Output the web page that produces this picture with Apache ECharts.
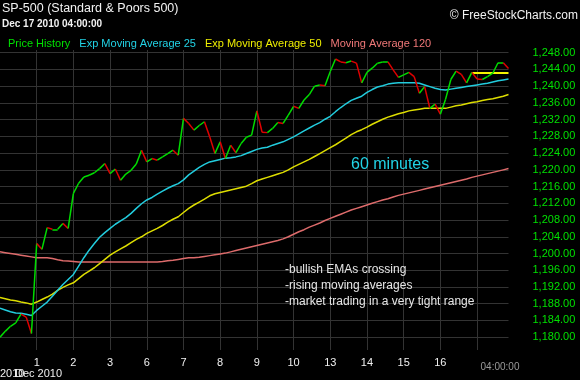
<!DOCTYPE html>
<html>
<head>
<meta charset="utf-8">
<script src="https://cdn.jsdelivr.net/npm/echarts@6/dist/echarts.min.js"></script>
<style>
html,body{margin:0;padding:0;background:#000;}
#chart{width:580px;height:380px;}
</style>
</head>
<body>
<div id="chart"></div>
<script>
// ---- data ----
const days = ['30','1','2','3','6','7','8','9','10','13','14','15','16','17'];
const hours = ['09:30','10:30','11:30','12:30','13:30','14:30','15:30'];
const yTicks = [1180,1184,1188,1192,1196,1200,1204,1208,1212,1216,1220,1224,1228,1232,1236,1240,1244,1248];

const price = [
1180.0,1181.4,1182.6,1183.4,1185.5,1184.8,1180.9,
1202.4,1201.0,1206.2,1205.8,1205.8,1207.2,1206.0,
1214.4,1216.8,1218.3,1218.7,1219.3,1220.3,1221.5,
1219.1,1220.2,1217.5,1219.0,1219.9,1221.4,1224.7,
1221.9,1222.7,1222.3,1223.1,1223.9,1224.7,1223.5,
1232.3,1231.1,1229.5,1230.6,1231.5,1227.9,1223.9,
1226.7,1222.7,1225.9,1224.1,1226.3,1227.8,1228.3,
1234.1,1229.0,1228.9,1229.9,1231.3,1231.1,1233.1,
1235.2,1234.7,1236.7,1238.0,1240.0,1240.3,1240.1,
1243.5,1246.5,1245.8,1245.6,1246.0,1245.5,1240.8,
1243.3,1244.3,1245.5,1245.8,1245.8,1243.9,1242.1,
1242.7,1243.3,1242.3,1238.3,1239.9,1234.7,1235.7,
1233.3,1236.9,1241.6,1243.6,1242.8,1240.8,1243.3,
1241.7,1241.6,1242.3,1243.1,1245.6,1245.6,1244.22
];

const ema25 = [
1186.9,1186.5,1186.1,1185.8,1185.7,1185.5,1185.2,
1186.4,1187.4,1188.4,1189.8,1191.2,1192.6,1193.8,
1195.0,1197.0,1199.0,1200.8,1202.4,1203.9,1205.0,
1206.0,1207.0,1207.8,1208.6,1209.6,1210.8,1211.9,
1212.8,1213.4,1214.2,1214.9,1215.6,1216.2,1216.7,
1217.6,1218.8,1219.7,1220.6,1221.3,1221.9,1222.2,
1222.5,1222.8,1222.9,1223.1,1223.4,1223.9,1224.4,
1224.9,1225.2,1225.4,1225.9,1226.3,1226.7,1227.3,
1227.9,1228.6,1229.3,1230.0,1230.7,1231.3,1232.1,
1232.8,1233.9,1234.9,1235.8,1236.6,1237.1,1237.6,
1238.5,1239.2,1239.8,1240.1,1240.5,1240.7,1240.8,
1240.8,1240.8,1240.8,1240.7,1240.3,1239.9,1239.5,
1239.2,1239.1,1239.3,1239.5,1239.7,1239.9,1240.1,
1240.3,1240.5,1240.7,1241.0,1241.3,1241.5,1241.7
];

const ema50 = [
1189.5,1189.2,1188.9,1188.7,1188.4,1188.2,1187.9,
1188.4,1189.0,1189.6,1190.3,1191.2,1191.9,1192.5,
1193.0,1194.0,1195.0,1195.8,1196.6,1197.6,1198.6,
1199.6,1200.4,1201.1,1201.8,1202.6,1203.4,1204.0,
1204.8,1205.4,1206.0,1206.7,1207.5,1208.2,1208.8,
1209.8,1210.8,1211.6,1212.3,1213.0,1213.8,1214.3,
1214.6,1214.9,1215.2,1215.5,1215.8,1216.1,1216.7,
1217.4,1217.8,1218.2,1218.6,1219.0,1219.4,1220.0,
1220.7,1221.3,1221.9,1222.5,1223.2,1223.9,1224.6,
1225.3,1226.0,1226.8,1227.6,1228.4,1229.1,1229.6,
1230.2,1230.9,1231.5,1232.1,1232.6,1233.0,1233.4,
1233.7,1234.1,1234.3,1234.5,1234.7,1234.7,1234.7,
1234.7,1234.7,1235.0,1235.3,1235.5,1235.8,1236.1,
1236.3,1236.6,1236.8,1237.0,1237.3,1237.6,1238.0
];

const ma120 = [
1200.4,1200.2,1200.0,1199.8,1199.6,1199.4,1199.2,
1199.0,1199.0,1199.0,1198.8,1198.5,1198.3,1198.2,
1198.1,1198.0,1198.0,1198.0,1198.0,1198.0,1198.0,
1198.0,1198.0,1198.0,1198.0,1198.0,1198.0,1198.0,
1198.0,1198.0,1198.0,1198.1,1198.3,1198.4,1198.6,
1198.8,1199.0,1199.0,1199.1,1199.3,1199.5,1199.7,
1199.9,1200.1,1200.4,1200.7,1201.0,1201.3,1201.6,
1201.9,1202.2,1202.5,1202.8,1203.1,1203.5,1204.0,
1204.6,1205.2,1205.7,1206.3,1206.8,1207.3,1207.9,
1208.4,1208.9,1209.4,1209.9,1210.4,1210.8,1211.2,
1211.6,1212.0,1212.4,1212.8,1213.1,1213.5,1213.9,
1214.2,1214.5,1214.8,1215.1,1215.4,1215.7,1216.0,
1216.3,1216.6,1216.9,1217.2,1217.5,1217.8,1218.2,
1218.5,1218.8,1219.1,1219.4,1219.7,1220.0,1220.3
];

const levelValue = 1243.1;
const levelFrom = 90;
const levelTo = 97;

// ---- chart ----
const categories = days.flatMap(d => hours.map(h => d + ' ' + h));
const FONT = '"Liberation Sans", Arial, sans-serif';
const GREEN = '#00dd00', RED = '#e00000', CYAN = '#22ccdd', YELLOW = '#dddd00', SALMON = '#dd6b6b';

const fmt = v => v.toLocaleString('en-US', {minimumFractionDigits: 2, maximumFractionDigits: 2});

const segments = [];
for (let i = 0; i < price.length - 1; i++) {
  segments.push({
    coords: [[i, price[i]], [i + 1, price[i + 1]]],
    lineStyle: {color: price[i + 1] >= price[i] ? GREEN : RED}
  });
}

const chart = echarts.init(document.getElementById('chart'), null, {renderer: 'canvas'});
chart.setOption({
  backgroundColor: '#000',
  animation: false,
  textStyle: {fontFamily: FONT},
  title: [
    {text: 'SP-500 (Standard & Poors 500)', left: 2, top: 2, padding: 0,
     textStyle: {color: '#f2f2f2', fontSize: 12.5, fontWeight: 'normal', fontFamily: FONT}},
    {text: 'Dec 17 2010 04:00:00', left: 2, top: 19, padding: 0,
     textStyle: {color: '#f2f2f2', fontSize: 10, fontWeight: 'bold', fontFamily: FONT}},
    {text: '© FreeStockCharts.com', right: 2, top: 10, padding: 0,
     textStyle: {color: '#f2f2f2', fontSize: 12, fontWeight: 'normal', fontFamily: FONT}}
  ],
  legend: {
    left: 3, top: 37, padding: 0, itemGap: 4, itemWidth: 0, itemHeight: 14,
    icon: 'rect',
    itemStyle: {opacity: 0, borderWidth: 0},
    lineStyle: {opacity: 0, width: 0},
    selectedMode: false,
    textStyle: {fontSize: 11, fontFamily: FONT},
    data: [
      {name: 'Price History', textStyle: {color: '#00e000'}},
      {name: 'Exp Moving Average 25', textStyle: {color: '#22d3e6'}},
      {name: 'Exp Moving Average 50', textStyle: {color: '#eeee00'}},
      {name: 'Moving Average 120', textStyle: {color: '#f07878'}}
    ]
  },
  grid: {left: 0, right: 71.5, top: 50, bottom: 30},
  xAxis: {
    type: 'category',
    data: categories,
    boundaryGap: false,
    axisLine: {show: false},
    axisTick: {show: false},
    axisLabel: {
      color: '#f0f0f0', fontSize: 11, margin: 7,
      interval: (i) => i % 7 === 0 && i > 0 && i < 91,
      formatter: v => v.split(' ')[0]
    },
    splitLine: {show: true, interval: (i) => i % 7 === 0 && i > 0,
      lineStyle: {color: '#333', width: 1}}
  },
  yAxis: {
    type: 'value',
    position: 'right',
    min: 1176.94,
    max: 1248.65,
    axisLine: {show: false},
    axisTick: {show: false, customValues: yTicks},
    axisLabel: {customValues: yTicks, color: '#00e000', fontSize: 11, margin: 24, formatter: fmt},
    splitLine: {show: true, lineStyle: {color: '#333', width: 1}}
  },
  graphic: [
    {type: 'text', x: 351, y: 165, silent: true, z: 100,
     style: {text: '60 minutes', fill: '#22d3e6', font: '16px ' + FONT, align: 'left', verticalAlign: 'middle'}},
    {type: 'text', x: 285, y: 269.5, silent: true, z: 100,
     style: {text: '-bullish EMAs crossing', fill: '#e6e6e6', font: '12px ' + FONT, align: 'left', verticalAlign: 'middle'}},
    {type: 'text', x: 285, y: 286, silent: true, z: 100,
     style: {text: '-rising moving averages', fill: '#e6e6e6', font: '12px ' + FONT, align: 'left', verticalAlign: 'middle'}},
    {type: 'text', x: 285, y: 301.7, silent: true, z: 100,
     style: {text: '-market trading in a very tight range', fill: '#e6e6e6', font: '12px ' + FONT, align: 'left', verticalAlign: 'middle'}},
    {type: 'text', x: 500, y: 367.5, silent: true,
     style: {text: '04:00:00', fill: '#9a9a9a', font: '10px ' + FONT, align: 'center', verticalAlign: 'middle'}},
    {type: 'text', x: 0, y: 373.5, silent: true,
     style: {text: '2010', fill: '#f0f0f0', font: '11px ' + FONT, align: 'left', verticalAlign: 'middle'}},
    {type: 'text', x: 15, y: 373.5, silent: true,
     style: {text: 'Dec 2010', fill: '#f0f0f0', font: '11px ' + FONT, align: 'left', verticalAlign: 'middle'}}
  ],
  series: [
    {name: 'Moving Average 120', type: 'line', data: ma120, showSymbol: false, silent: true,
     color: SALMON, lineStyle: {color: SALMON, width: 1.5}, z: 2},
    {name: 'Exp Moving Average 50', type: 'line', data: ema50, showSymbol: false, silent: true,
     color: YELLOW, lineStyle: {color: YELLOW, width: 1.5}, z: 3},
    {name: 'Exp Moving Average 25', type: 'line', data: ema25, showSymbol: false, silent: true,
     color: CYAN, lineStyle: {color: CYAN, width: 1.5}, z: 4},
    {name: 'Price History', type: 'lines', coordinateSystem: 'cartesian2d', polyline: false,
     silent: true, color: GREEN, lineStyle: {width: 1.5, opacity: 1, curveness: 0},
     data: segments, z: 5},
    {name: 'price-marks', type: 'line', data: price, showSymbol: false, silent: true,
     lineStyle: {opacity: 0}, z: 6,
     markLine: {
       silent: true, symbol: ['none', 'none'], animation: false,
       data: [
         [{coord: [levelFrom, levelValue], lineStyle: {color: '#f5f500', width: 2, type: 'solid'}, label: {show: false}},
          {coord: [levelTo, levelValue]}],
         {yAxis: price[price.length - 1], lineStyle: {opacity: 0},
          label: {show: true, position: 'end', distance: 24, formatter: () => fmt(price[price.length - 1]),
                  color: '#ffffff', fontSize: 11, fontFamily: FONT, backgroundColor: '#000',
                  borderColor: '#c8c8c8', borderWidth: 1, borderRadius: 3, padding: [2, 2, 1, 3]}}
       ]
     }}
  ]
});
</script>
</body>
</html>
